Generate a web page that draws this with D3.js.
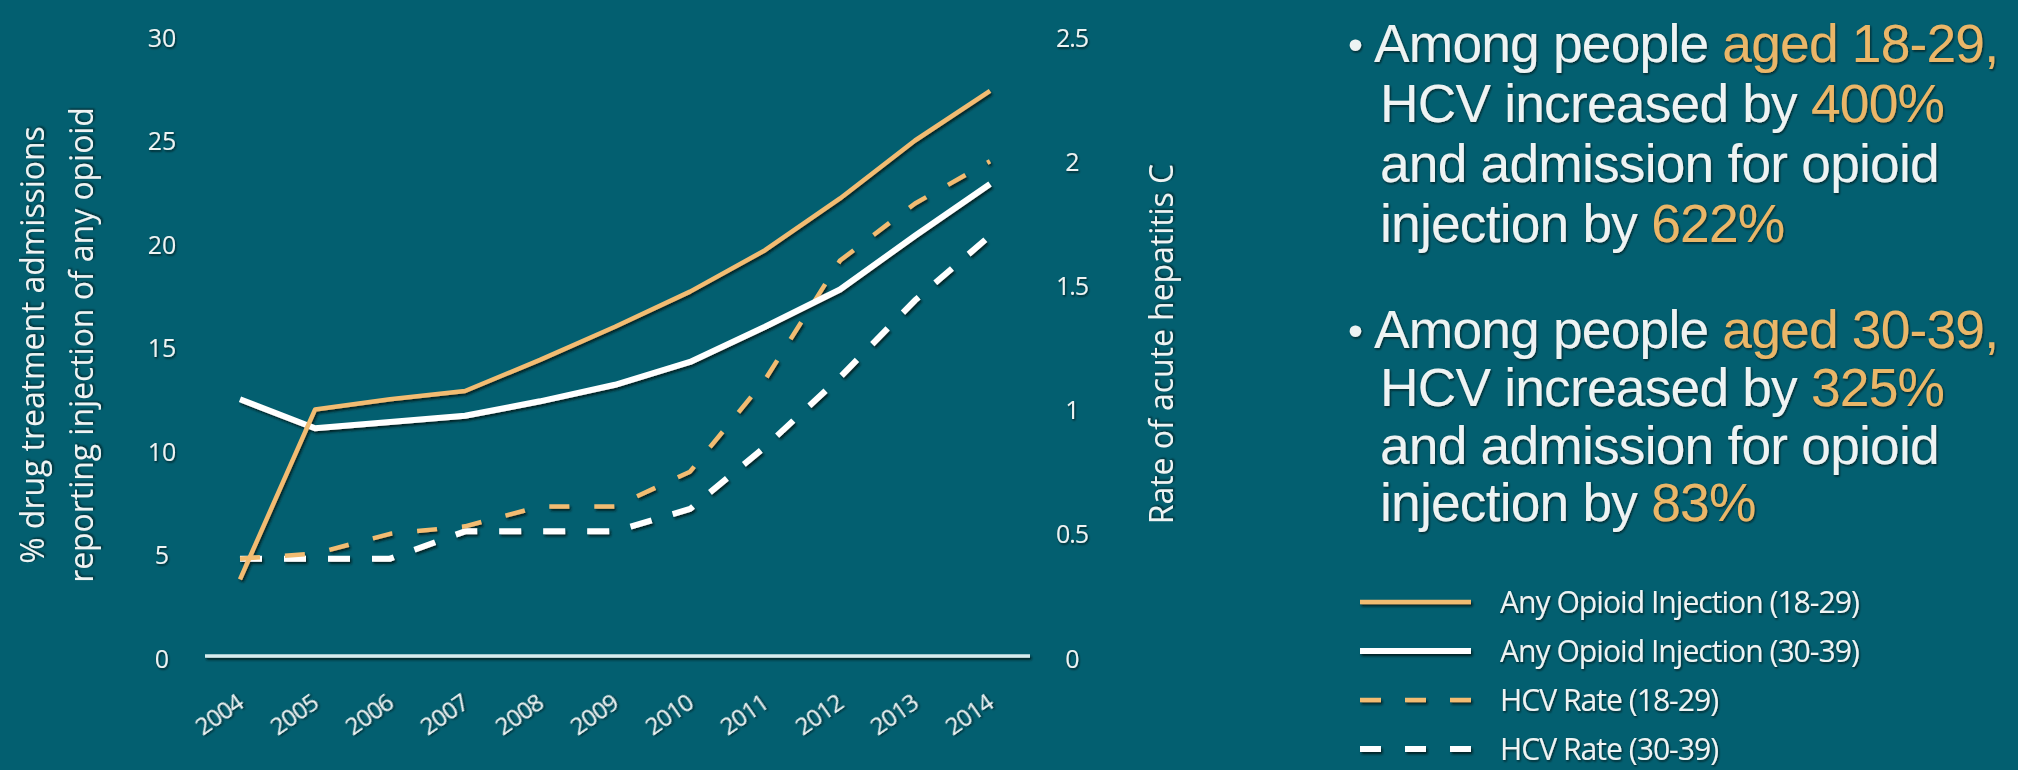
<!DOCTYPE html>
<html>
<head>
<meta charset="utf-8">
<script src="https://cdn.jsdelivr.net/npm/d3@7"></script>
<style>
  html, body { margin: 0; padding: 0; background: #035f70; }
  svg { display: block; }
  text { font-family: "Open Sans", "Noto Sans", sans-serif; }
  text.body { font-family: "Liberation Sans", Arial, sans-serif; }
</style>
</head>
<body>
<svg id="chart" width="2018" height="770"></svg>
<script>
// ---- data ----
const years = [2004, 2005, 2006, 2007, 2008, 2009, 2010, 2011, 2012, 2013, 2014];
// % of drug treatment admissions reporting injection of any opioid (left axis)
const opioid1829 = [3.8, 12.0, 12.5, 12.9, 14.4, 16.0, 17.7, 19.7, 22.2, 25.0, 27.4];
const opioid3039 = [12.5, 11.1, 11.4, 11.7, 12.4, 13.2, 14.3, 16.0, 17.8, 20.4, 22.9];
// rate of acute hepatitis C (right axis)
const hcv1829 = [0.40, 0.42, 0.50, 0.53, 0.61, 0.61, 0.75, 1.12, 1.60, 1.83, 2.00];
const hcv3039 = [0.40, 0.40, 0.40, 0.51, 0.51, 0.51, 0.60, 0.85, 1.13, 1.44, 1.70];

const leftTicks = [0, 5, 10, 15, 20, 25, 30];
const rightTicks = [0, 0.5, 1, 1.5, 2, 2.5];

const leftTitle = ["% drug treatment admissions", "reporting injection of any opioid"];
const rightTitle = "Rate of acute hepatitis C";

const legendLabels = [
  "Any Opioid Injection (18-29)",
  "Any Opioid Injection  (30-39)",
  "HCV Rate (18-29)",
  "HCV Rate (30-39)"
];

// bullet paragraphs: each line is a list of [text, highlighted?] runs
const bullets = [
  [
    [["Among people ", false], ["aged 18-29,", true]],
    [["HCV increased by ", false], ["400%", true]],
    [["and admission for opioid", false]],
    [["injection by ", false], ["622%", true]]
  ],
  [
    [["Among people ", false], ["aged 30-39,", true]],
    [["HCV increased by ", false], ["325%", true]],
    [["and admission for opioid", false]],
    [["injection by ", false], ["83%", true]]
  ]
];

// ---- styles ----
const BG = "#035f70";
const ORANGE = "#f2bc72";
const WHITE = "#ffffff";
const TEXT = "#eef3f3";
const HIGHLIGHT = "#eab667";

const svg = d3.select("#chart");
svg.append("rect").attr("width", 2018).attr("height", 770).attr("fill", BG);

const defs = svg.append("defs");
// filter region is generous so translated / rotated elements are not clipped
function shadowFilter(id, dx, dy, sd, op) {
  defs.append("filter").attr("id", id)
    .attr("filterUnits", "userSpaceOnUse")
    .attr("x", -3000).attr("y", -3000).attr("width", 8000).attr("height", 8000)
    .append("feDropShadow")
    .attr("dx", dx).attr("dy", dy).attr("stdDeviation", sd)
    .attr("flood-color", "#001418").attr("flood-opacity", op);
}
shadowFilter("lineShadow", 1.5, 2.2, 1.3, 0.85);
shadowFilter("textShadow", 1, 1.4, 0.9, 0.75);

// ---- scales ----
const x = d3.scaleLinear().domain([2004, 2014]).range([240, 990]);
const yL = d3.scaleLinear().domain([0, 30]).range([658, 37]);
const yR = d3.scaleLinear().domain([0, 2.5]).range([658, 37]);

// scale a text element's font-size so its length hits a target width
function fitWidth(sel, target) {
  const node = sel.node();
  const fs = parseFloat(sel.attr("font-size"));
  const w = node.getComputedTextLength();
  const size = fs * target / w;
  sel.attr("font-size", size);
  return size;
}

// ---- axes ----
const axisFont = 25;
const gL = svg.append("g").attr("transform", "translate(162,0)")
  .call(d3.axisLeft(yL).tickValues(leftTicks).tickSize(0).tickPadding(0));
const gR = svg.append("g").attr("transform", "translate(1072,0)")
  .call(d3.axisRight(yR).tickValues(rightTicks).tickSize(0).tickPadding(0)
    .tickFormat(d => String(d)));
const gX = svg.append("g").attr("transform", "translate(0,700)")
  .call(d3.axisBottom(x).tickValues(years).tickSize(0).tickFormat(d3.format("d")));

[gL, gR, gX].forEach(g => {
  g.select(".domain").remove();
  g.selectAll("text")
    .attr("fill", TEXT)
    .attr("font-size", axisFont)
    .attr("filter", "url(#textShadow)");
});
gL.selectAll("text").attr("text-anchor", "middle").attr("x", 0).attr("dy", "0.36em");
gR.selectAll("text").attr("text-anchor", "middle").attr("x", 0).attr("dy", "0.36em")
  .attr("letter-spacing", -1);
gX.selectAll("text")
  .attr("x", 0).attr("y", 0).attr("dy", "0.35em")
  .attr("text-anchor", "end")
  .attr("font-size", 24)
  .attr("letter-spacing", -0.8)
  .attr("transform", "rotate(-35)");

// baseline
svg.append("line")
  .attr("x1", 205).attr("x2", 1030)
  .attr("y1", yL(0) - 2).attr("y2", yL(0) - 2)
  .attr("stroke", "#d6ecee").attr("stroke-width", 3.5)
  .attr("filter", "url(#lineShadow)");

// axis titles
const tL2 = svg.append("text")
  .attr("transform", "translate(82,345) rotate(-90)")
  .attr("text-anchor", "middle").attr("dy", "0.35em")
  .attr("fill", TEXT).attr("font-size", 28)
  .attr("filter", "url(#textShadow)")
  .text(leftTitle[1]);
const titleSize = fitWidth(tL2, 476);
svg.append("text")
  .attr("transform", "translate(33,345) rotate(-90)")
  .attr("text-anchor", "middle").attr("dy", "0.35em")
  .attr("fill", TEXT).attr("font-size", titleSize)
  .attr("filter", "url(#textShadow)")
  .text(leftTitle[0]);
svg.append("text")
  .attr("transform", "translate(1162,344) rotate(-90)")
  .attr("text-anchor", "middle").attr("dy", "0.35em")
  .attr("fill", TEXT).attr("font-size", titleSize)
  .attr("filter", "url(#textShadow)")
  .text(rightTitle);

// ---- lines ----
const series = [
  { values: hcv3039, scale: yR, color: WHITE, width: 6, dash: "22,22" },
  { values: hcv1829, scale: yR, color: ORANGE, width: 4.5, dash: "20,25" },
  { values: opioid3039, scale: yL, color: WHITE, width: 6, dash: null },
  { values: opioid1829, scale: yL, color: ORANGE, width: 4.5, dash: null }
];

const gLines = svg.append("g").attr("filter", "url(#lineShadow)");
series.forEach(s => {
  const line = d3.line().x((d, i) => x(years[i])).y(d => s.scale(d));
  gLines.append("path")
    .datum(s.values)
    .attr("d", line)
    .attr("fill", "none")
    .attr("stroke", s.color)
    .attr("stroke-width", s.width)
    .attr("stroke-linejoin", "round")
    .attr("stroke-dasharray", s.dash);
});

// ---- bullet text ----
const bulletBaselines = [[62, 122, 182, 242], [348, 406, 464, 521]];
const gText = svg.append("g").attr("filter", "url(#textShadow)");
// size the paragraph font from the first line's width
const probe = gText.append("text").attr("class", "body")
  .attr("x", 1372).attr("y", -100)
  .attr("font-size", 50).attr("letter-spacing", -0.8).text("Among people aged 18-29,");
const bodySize = fitWidth(probe, 623);
probe.remove();

bullets.forEach((para, pi) => {
  gText.append("text").attr("class", "body")
    .attr("x", 1348).attr("y", bulletBaselines[pi][0] - 3)
    .attr("font-size", bodySize * 0.8)
    .attr("fill", TEXT)
    .text("•");
  para.forEach((runs, li) => {
    const row = gText.append("text").attr("class", "body")
      .attr("font-size", bodySize)
      .attr("letter-spacing", -0.8)
      .attr("x", li === 0 ? 1374 : 1380)
      .attr("y", bulletBaselines[pi][li]);
    runs.forEach(([str, hi]) => {
      row.append("tspan").attr("fill", hi ? HIGHLIGHT : TEXT).text(str);
    });
  });
});

// ---- legend ----
const legendRows = [602, 651, 700, 749];
const gLeg = svg.append("g");
const legendSeries = [series[3], series[2], series[1], series[0]];
legendSeries.forEach((s, i) => {
  gLeg.append("line")
    .attr("x1", 1360).attr("x2", 1471)
    .attr("y1", legendRows[i]).attr("y2", legendRows[i])
    .attr("stroke", s.color)
    .attr("stroke-width", s.width)
    .attr("stroke-dasharray", s.dash ? "21,24" : null)
    .attr("filter", "url(#lineShadow)");
});
const l0 = gLeg.append("text").attr("x", 1500).attr("y", legendRows[0])
  .attr("dy", "0.35em").attr("font-size", 24).attr("letter-spacing", -1)
  .attr("fill", TEXT).attr("filter", "url(#textShadow)")
  .text(legendLabels[0]);
const legSize = fitWidth(l0, 352);
legendLabels.slice(1).forEach((lab, i) => {
  gLeg.append("text").attr("x", 1500).attr("y", legendRows[i + 1])
    .attr("dy", "0.35em").attr("font-size", legSize).attr("letter-spacing", -1)
    .attr("fill", TEXT).attr("filter", "url(#textShadow)")
    .text(lab);
});
</script>
</body>
</html>
